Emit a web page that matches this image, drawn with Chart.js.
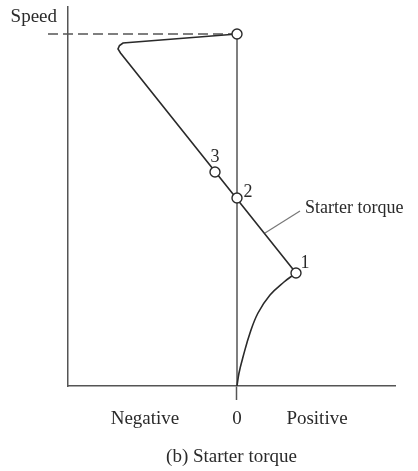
<!DOCTYPE html>
<html>
<head>
<meta charset="utf-8">
<script src="https://cdn.jsdelivr.net/npm/chart.js@4/dist/chart.umd.min.js"></script>
<style>
  html, body { margin: 0; padding: 0; background: #fff; }
  #wrap { width: 418px; height: 471px; }
</style>
</head>
<body>
<div id="wrap"><canvas id="chart" width="418" height="471"></canvas></div>
<script>
'use strict';

// torque (x) / speed (y), arbitrary units
var starterCurve = [
   { x: 0, y: 3.52 },
   { x: -1.14, y: 3.43 },
   { x: -1.175, y: 3.405 },
   { x: -1.19, y: 3.37 },
   { x: -1.165, y: 3.33 },
   { x: 0.59, y: 1.13 }
];
var lowCurve = [
   { x: 0.59, y: 1.13 },
   { x: 0.47, y: 1.04 },
   { x: 0.33, y: 0.91 },
   { x: 0.21, y: 0.73 },
   { x: 0.13, y: 0.53 },
   { x: 0.06, y: 0.29 },
   { x: 0.02, y: 0.13 },
   { x: 0, y: 0 }
];
var markedPoints = [
   { x: 0, y: 3.52 },
   { x: -0.22, y: 2.14 },
   { x: 0, y: 1.88 },
   { x: 0.59, y: 1.13 }
];
var pointLabels = ['', '3', '2', '1'];
var speedLine = [ { x: -1.89, y: 3.52 }, { x: 0, y: 3.52 } ];
var zeroLine = [ { x: 0, y: 3.52 }, { x: 0, y: 0 } ];
var leaderLine = [ { x: 0.28, y: 1.53 }, { x: 0.63, y: 1.75 } ];
var leaderText = 'Starter torque';

var xTickValues = [-0.92, 0, 0.8];
var xTickLabels = ['Negative', '0', 'Positive'];
var yTickValues = [3.69];
var yTickLabels = ['Speed'];
var xTitle = '(b) Starter torque';

var FONT = 'Liberation Serif, "Times New Roman", serif';
var INK = '#2a2a2a';
var AXIS = '#555';

// numbers next to the circles and the "Starter torque" note
var labelPlugin = {
   id: 'pointNotes',
   afterDatasetsDraw: function (chart) {
      var ctx = chart.ctx;
      var xs = chart.scales.x, ys = chart.scales.y;
      var offsets = [null, [0, -15], [11, -6], [9, -10]];
      ctx.save();
      ctx.fillStyle = INK;
      ctx.font = '18px ' + FONT;
      ctx.textAlign = 'center';
      ctx.textBaseline = 'middle';
      for (var i = 1; i < markedPoints.length; i++) {
         var px = xs.getPixelForValue(markedPoints[i].x) + offsets[i][0];
         var py = ys.getPixelForValue(markedPoints[i].y) + offsets[i][1];
         ctx.fillText(pointLabels[i], px, py);
      }
      var end = leaderLine[leaderLine.length - 1];
      ctx.textAlign = 'left';
      ctx.fillText(leaderText, xs.getPixelForValue(end.x) + 5, ys.getPixelForValue(end.y) - 3);
      ctx.restore();
   }
};

var lineStyle = function (data, color, width, extra) {
   var ds = {
      data: data,
      showLine: true,
      borderColor: color,
      borderWidth: width,
      pointRadius: 0,
      pointHoverRadius: 0,
      fill: false,
      tension: 0,
      clip: false
   };
   for (var k in extra) ds[k] = extra[k];
   return ds;
};

new Chart(document.getElementById('chart'), {
   type: 'scatter',
   data: {
      datasets: [
         {
            data: markedPoints,
            showLine: false,
            pointRadius: 5,
            pointHoverRadius: 5,
            pointBackgroundColor: '#fff',
            pointBorderColor: INK,
            pointBorderWidth: 1.4,
            clip: false
         },
         lineStyle(starterCurve, INK, 1.6),
         lineStyle(lowCurve, INK, 1.6, { tension: 0.4 }),
         lineStyle(leaderLine, '#777', 1.2),
         lineStyle(zeroLine, AXIS, 1.5),
         lineStyle(speedLine, AXIS, 1.6, { borderDash: [10, 5] })
      ]
   },
   options: {
      responsive: false,
      animation: false,
      events: [],
      layout: { padding: { top: 7, right: 23, left: 0, bottom: 0 } },
      plugins: {
         legend: { display: false },
         tooltip: { enabled: false }
      },
      scales: {
         x: {
            type: 'linear',
            min: -1.69,
            max: 1.58,
            afterFit: function (scale) { scale.height = 85; },
            afterBuildTicks: function (scale) {
               scale.ticks = xTickValues.map(function (v) { return { value: v }; });
            },
            grid: {
               display: true,
               drawOnChartArea: false,
               drawTicks: true,
               tickLength: 14,
               tickWidth: 1.5,
               tickColor: function (c) { return c.tick && c.tick.value === 0 ? AXIS : 'rgba(0,0,0,0)'; }
            },
            border: { display: true, color: AXIS, width: 1.5 },
            ticks: {
               autoSkip: false,
               maxRotation: 0,
               padding: 8,
               color: INK,
               font: { family: FONT, size: 19 },
               callback: function (v) { return xTickLabels[xTickValues.indexOf(v)]; }
            },
            title: {
               display: true,
               text: xTitle,
               color: INK,
               font: { family: FONT, size: 19 },
               padding: { top: 0, bottom: 3 }
            }
         },
         y: {
            type: 'linear',
            min: 0,
            max: 3.79,
            afterFit: function (scale) {
               scale.width = 68;
               scale.paddingTop = 0;
               scale.paddingBottom = 0;
            },
            afterBuildTicks: function (scale) {
               scale.ticks = yTickValues.map(function (v) { return { value: v }; });
            },
            grid: { display: false, drawTicks: false },
            border: { display: true, color: AXIS, width: 1.5 },
            ticks: {
               padding: 11,
               color: INK,
               font: { family: FONT, size: 19 },
               callback: function (v) { return yTickLabels[yTickValues.indexOf(v)]; }
            }
         }
      }
   },
   plugins: [labelPlugin]
});
</script>
</body>
</html>
